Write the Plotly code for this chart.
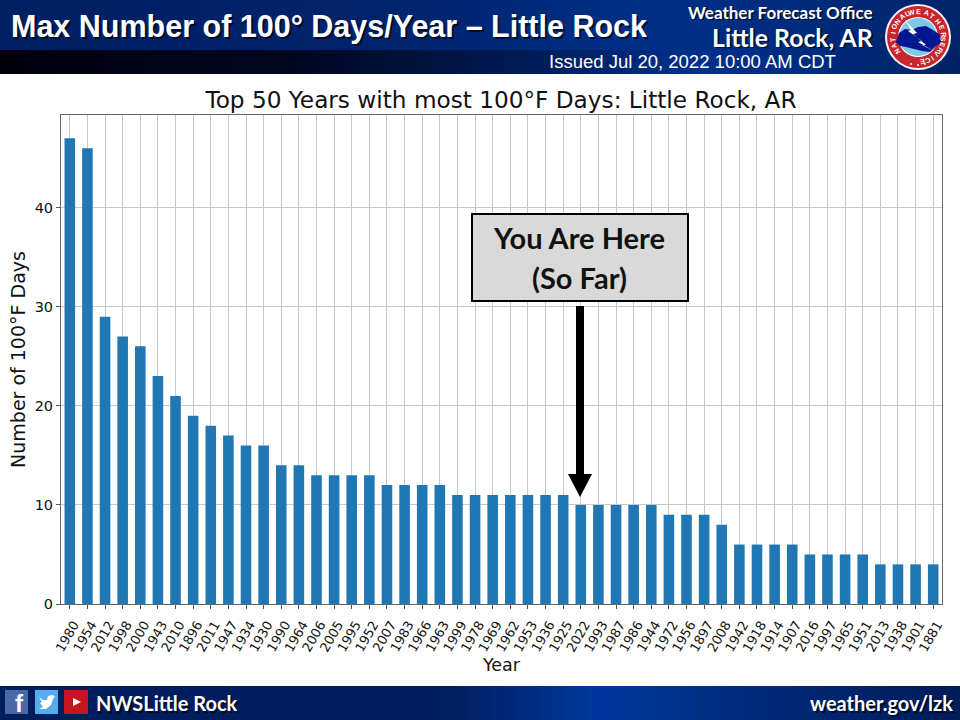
import math
import plotly.graph_objects as go

years = ['1980', '1954', '2012', '1998', '2000', '1943', '2010', '1896', '2011', '1947',
         '1934', '1930', '1990', '1964', '2006', '2005', '1995', '1952', '2007', '1983',
         '1966', '1963', '1999', '1978', '1969', '1962', '1953', '1936', '1925', '2022',
         '1993', '1987', '1986', '1944', '1972', '1956', '1897', '2008', '1942', '1918',
         '1914', '1907', '2016', '1997', '1965', '1951', '2013', '1938', '1901', '1881']
days = [47, 46, 29, 27, 26, 23, 21, 19, 18, 17,
        16, 16, 14, 14, 13, 13, 13, 13, 12, 12,
        12, 12, 11, 11, 11, 11, 11, 11, 11, 10,
        10, 10, 10, 10, 9, 9, 9, 8, 6, 6,
        6, 6, 5, 5, 5, 5, 4, 4, 4, 4]
y_ticks = [0, 10, 20, 30, 40]

W = 960
H = 720


def px(x):
    return x / W


def py(y):
    return 1 - y / H


shapes = []
notes = []


def rect(x0, y0, x1, y1, fill, line=None, lw=0, layer='above'):
    shapes.append(dict(type='rect', xref='paper', yref='paper', x0=px(x0), x1=px(x1), y0=py(y0), y1=py(y1),
                       fillcolor=fill, line=dict(color=line or fill, width=lw), layer=layer))


def circle(cx, cy, r, fill):
    shapes.append(dict(type='circle', xref='paper', yref='paper', x0=px(cx - r), x1=px(cx + r),
                       y0=py(cy + r), y1=py(cy - r), fillcolor=fill, line=dict(width=0), layer='above'))


def poly(points, fill):
    d = 'M ' + ' L '.join(f'{px(x):.5f} {py(y):.5f}' for x, y in points) + ' Z'
    shapes.append(dict(type='path', xref='paper', yref='paper', path=d, fillcolor=fill,
                       line=dict(width=0), layer='above'))


def text(x, y, s, size, color='white', font='Liberation Sans', anchor='left', bold=False, angle=0, shadow=False):
    if bold:
        s = f'<b>{s}</b>'
    if shadow:
        notes.append(dict(xref='paper', yref='paper', x=px(x + 1.5), y=py(y + 1.5), text=s, showarrow=False,
                          xanchor=anchor, yanchor='middle', textangle=angle,
                          font=dict(family=font, size=size, color='rgba(0,0,0,0.65)')))
    notes.append(dict(xref='paper', yref='paper', x=px(x), y=py(y), text=s, showarrow=False,
                      xanchor=anchor, yanchor='middle', textangle=angle,
                      font=dict(family=font, size=size, color=color)))


def lerp(stops, x):
    for (x0, c0), (x1, c1) in zip(stops, stops[1:]):
        if x <= x1:
            t = (x - x0) / (x1 - x0)
            return 'rgb(%d,%d,%d)' % tuple(c0[i] + (c1[i] - c0[i]) * t for i in range(3))
    return 'rgb(%d,%d,%d)' % stops[-1][1]


def gradient_band(y0, y1, stops):
    step = 12
    for x in range(0, W, step):
        rect(x, y0, min(x + step + 1, W), y1, lerp(stops, x + step / 2), layer='below')


# header and footer bands
gradient_band(0, 50, [(0, (0, 32, 100)), (400, (0, 36, 110)), (640, (0, 48, 135)), (800, (0, 44, 125)), (960, (0, 36, 105))])
gradient_band(50, 74, [(0, (0, 0, 12)), (300, (0, 8, 35)), (520, (0, 28, 85)), (700, (0, 48, 140)), (830, (0, 44, 125)), (960, (0, 34, 100))])
gradient_band(686, 720, [(0, (0, 30, 92)), (450, (0, 32, 98)), (600, (0, 56, 160)), (720, (0, 46, 130)), (960, (0, 28, 88))])

text(9, 27, 'Max Number of 100° Days/Year – Little Rock', 30.5, bold=True, shadow=True)
text(875, 12, 'Weather Forecast Office', 17, font='Lato', anchor='right', bold=True, shadow=True)
text(875, 37, 'Little Rock, AR', 24.8, font='Lato', anchor='right', bold=True, shadow=True)
text(547, 61, 'Issued Jul 20, 2022 10:00 AM CDT', 18.5)
text(94, 703, 'NWSLittle Rock', 20, font='Lato', bold=True, shadow=True)
text(955, 703, 'weather.gov/lzk', 20, font='Lato', anchor='right', bold=True, shadow=True)

# NWS logo
cx, cy = 918, 37
circle(cx, cy, 33, '#f4f4f4')
circle(cx, cy, 31, '#c8262c')
circle(cx, cy, 20, '#ffffff')
circle(cx, cy, 19, '#7fc8e8')
poly([(896, 42), (899, 33), (905, 29), (912, 30), (918, 27), (926, 26), (933, 30), (939, 34), (942, 42),
      (936, 46), (930, 52), (922, 51), (914, 49), (906, 47), (900, 46)], '#00188f')
poly([(905, 20), (917, 33), (913, 34), (926, 45), (922, 45), (934, 51), (918, 42), (922, 41), (908, 31), (911, 30)], '#ffffff')
for word, start, stop in [('NATIONAL', 236, 336), ('WEATHER', 345, 445), ('SERVICE', 455, 530)]:
    for i, ch in enumerate(word):
        deg = start + (stop - start) * i / (len(word) - 1)
        a = math.radians(deg)
        text(cx + 25.5 * math.sin(a), cy - 25.5 * math.cos(a), ch, 7, anchor='center', bold=True, angle=deg)
for dx in [-7, 0, 7]:
    circle(cx + dx, cy + 28 - abs(dx) * 0.15, 1, '#ffffff')

# social icons
rect(5, 690, 28, 714, '#4a68a8')
text(19, 703, 'f', 24, bold=True, anchor='center')
rect(35, 690, 58, 714, '#55acee')
poly([(39, 697), (43, 700), (47, 700), (48, 696), (52, 695), (55, 696), (53, 699), (51, 705), (46, 709),
      (39, 709), (43, 707), (40, 703), (42, 702)], '#ffffff')
rect(64, 690, 88, 714, '#c4161c')
poly([(73, 698), (81, 702), (73, 706)], '#ffffff')

# callout box and arrow
rect(472, 214, 688, 301, '#d9d9d9', line='black', lw=2)
text(579, 238, 'You Are Here', 29, color='#111111', font='Lato', anchor='center', bold=True)
text(579, 277, '(So Far)', 29, color='#111111', font='Lato', anchor='center', bold=True)
rect(576, 306, 584, 475, 'black')
poly([(568, 474), (592, 474), (580, 497)], 'black')

fig = go.Figure(go.Bar(x=years, y=days, width=0.6, marker=dict(color='#1f77b4', line=dict(width=0))))

fig.update_layout(
    width=W, height=H,
    margin=dict(l=0, r=0, t=0, b=0),
    paper_bgcolor='white', plot_bgcolor='white',
    showlegend=False,
    font=dict(family='DejaVu Sans', color='#111111'),
    title=dict(text='Top 50 Years with most 100°F Days: Little Rock, AR', x=501 / W, xanchor='center',
               y=py(100), yanchor='middle', font=dict(family='DejaVu Sans', size=23.2, color='#111111')),
    xaxis=dict(domain=[px(61), px(942)], type='category', range=[-0.5, 49.5], tickangle=-60, automargin=False,
               tickfont=dict(size=13), ticks='outside', ticklen=4, tickcolor='#555555', ticklabelshift=4,
               ticklabelstandoff=3, showgrid=True, gridcolor='#c8c8c8', gridwidth=1.2, showline=True,
               linecolor='#666666', linewidth=1, mirror=True,
               title=dict(text='Year', font=dict(size=17.5), standoff=0)),
    yaxis=dict(domain=[py(604), py(115)], range=[0, 49.35], tickvals=y_ticks, tickfont=dict(size=14.5),
               automargin=False, ticks='outside', ticklen=4, tickcolor='#555555', showgrid=True,
               gridcolor='#c8c8c8', gridwidth=1.2, showline=True, linecolor='#666666', linewidth=1, mirror=True,
               zeroline=False, title=dict(text='Number of 100°F Days', font=dict(size=19), standoff=3)),
    shapes=shapes,
    annotations=notes,
)

fig.write_html("out.html", config=dict(displayModeBar=False),
               post_script="document.body.style.margin='0';document.body.style.overflow='hidden';")
